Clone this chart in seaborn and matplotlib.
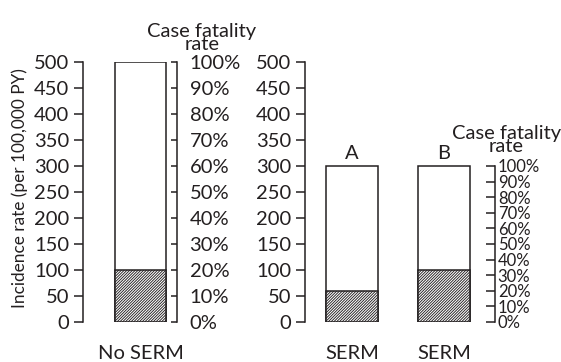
import matplotlib
matplotlib.use("Agg")
import matplotlib.pyplot as plt
import matplotlib.transforms as mtransforms
import seaborn as sns
import pandas as pd

# Data
left_groups = ["No SERM"]
left_incidence = [500]
left_fatal = [100]

right_groups = ["SERM A", "SERM B"]
right_tick_labels = ["SERM", "SERM"]
right_bar_tags = ["A", "B"]
right_incidence = [300, 300]
right_fatal = [60, 100]

inc_ticks = list(range(0, 501, 50))
cfr_ticks = list(range(0, 101, 10))
cfr_labels = [f"{t}%" for t in cfr_ticks]

sns.set_style("white")
plt.rcParams["font.family"] = ["Lato", "DejaVu Sans"]
plt.rcParams["hatch.linewidth"] = 0.65
plt.rcParams["hatch.color"] = "#231f20"

INK = "#231f20"
W, H = 561, 362
fig = plt.figure(figsize=(W / 100, H / 100), dpi=100)

def px_axes(x0, x1, y0, y1):
    return fig.add_axes([x0 / W, 1 - y1 / H, (x1 - x0) / W, (y1 - y0) / H])

FS = 14.5
FS_SMALL = 12
LW = 1.1

def style_inc_axis(ax):
    for s in ["top", "right", "bottom"]:
        ax.spines[s].set_visible(False)
    ax.spines["left"].set_linewidth(LW)
    ax.spines["left"].set_color(INK)
    ax.set_ylim(0, 500)
    ax.set_yticks(inc_ticks)
    ax.set_yticklabels([str(t) for t in inc_ticks], fontsize=FS, color=INK)
    ax.tick_params(axis="y", direction="out", length=6.5, width=LW, pad=3.5, colors=INK)
    ax.tick_params(axis="x", length=0, pad=16.5, labelsize=FS, colors=INK)
    ax.set_xlabel("")

def draw_bars(ax, groups, inc, fatal, width):
    df_inc = pd.DataFrame({"g": groups, "v": inc})
    df_fat = pd.DataFrame({"g": groups, "v": fatal})
    sns.barplot(data=df_inc, x="g", y="v", ax=ax, color="white", edgecolor=INK,
                linewidth=LW, width=width, saturation=1)
    sns.barplot(data=df_fat, x="g", y="v", ax=ax, color="white", edgecolor=INK,
                linewidth=LW, width=width, saturation=1, hatch="/" * 12)
    ax.set_xlabel("")
    ax.set_ylabel("")

# Left panel
ax1 = px_axes(83, 177, 62, 322)
draw_bars(ax1, left_groups, left_incidence, left_fatal, width=0.543)
ax1.set_xlim(-0.612, 0.388)
style_inc_axis(ax1)
ax1.set_ylabel("Incidence rate (per 100,000 PY)", fontsize=12.4, color=INK)
ax1.yaxis.set_label_coords(-0.585, 0.515)

ax1b = ax1.twinx()
for s in ["top", "left", "bottom"]:
    ax1b.spines[s].set_visible(False)
ax1b.spines["right"].set_linewidth(LW)
ax1b.spines["right"].set_color(INK)
ax1b.set_ylim(0, 100)
ax1b.set_yticks(cfr_ticks)
ax1b.set_yticklabels(cfr_labels, fontsize=FS, color=INK)
ax1b.tick_params(axis="y", direction="in", length=4.5, width=LW, pad=9, colors=INK)
ax1b.text(1.266, 1.035, "Case fatality\nrate", transform=ax1b.transAxes, ha="center", va="bottom",
          fontsize=FS, linespacing=0.72, color=INK)

# Right panel
ax2 = px_axes(305, 495, 62, 322)
draw_bars(ax2, right_groups, right_incidence, right_fatal, width=0.565)
ax2.set_xlim(-0.511, -0.511 + 190 / 92)
style_inc_axis(ax2)
ax2.set_xticks([0, 1])
ax2.set_xticklabels(right_tick_labels)
for i, (tag, v) in enumerate(zip(right_bar_tags, right_incidence)):
    ax2.annotate(tag, (i, v), xytext=(0, 3), textcoords="offset points", ha="center",
                 va="bottom", fontsize=FS, color=INK)

ax2b = ax2.twinx()
for s in ["top", "left", "bottom"]:
    ax2b.spines[s].set_visible(False)
ax2b.spines["right"].set_linewidth(LW)
ax2b.spines["right"].set_color(INK)
ax2b.set_ylim(0, 100 * 500 / 300)
ax2b.spines["right"].set_bounds(0, 100)
ax2b.set_yticks(cfr_ticks)
ax2b.set_yticklabels(cfr_labels, fontsize=FS_SMALL, color=INK)
ax2b.tick_params(axis="y", direction="in", length=6.5, width=LW, pad=2, colors=INK)
tr = mtransforms.blended_transform_factory(ax2b.transAxes, ax2b.transData)
ax2b.text(1.06, 107, "Case fatality\nrate", transform=tr,
          ha="center", va="bottom", fontsize=FS, linespacing=0.72, color=INK)

fig.savefig("out.png", dpi=100)
